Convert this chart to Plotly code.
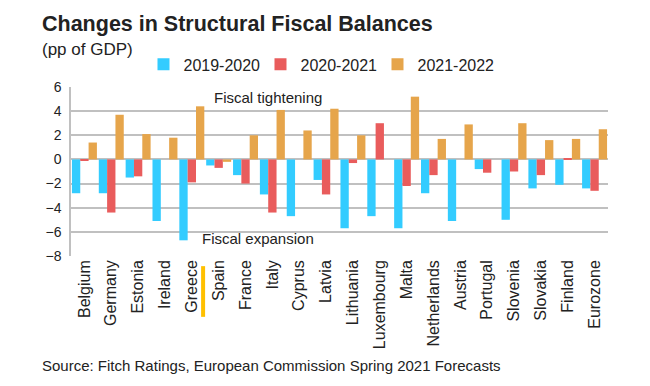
import plotly.graph_objects as go

countries = ["Belgium", "Germany", "Estonia", "Ireland", "Greece", "Spain", "France",
             "Italy", "Cyprus", "Latvia", "Lithuania", "Luxembourg", "Malta",
             "Netherlands", "Austria", "Portugal", "Slovenia", "Slovakia", "Finland",
             "Eurozone"]
s2019_2020 = [-2.8, -2.8, -1.5, -5.1, -6.7, -0.5, -1.3, -2.9, -4.7, -1.7, -5.7, -4.7,
              -5.7, -2.8, -5.1, -0.8, -5.0, -2.4, -2.1, -2.4]
s2020_2021 = [-0.1, -4.4, -1.4, 0.0, -1.9, -0.7, -2.0, -4.4, 0.0, -2.9, -0.3, 3.0,
              -2.2, -1.3, 0.0, -1.1, -1.0, -1.3, 0.1, -2.6]
s2021_2022 = [1.4, 3.7, 2.1, 1.8, 4.4, -0.2, 2.0, 4.1, 2.4, 4.2, 2.0, 0.0,
              5.2, 1.7, 2.9, 0.0, 3.0, 1.6, 1.7, 2.5]
series_names = ["2019-2020", "2020-2021", "2021-2022"]
series_colors = ["#33CCFF", "#E95C5C", "#E6A54B"]
y_ticks = [-8, -6, -4, -2, 0, 2, 4, 6]

FONT = "Liberation Sans, Arial, sans-serif"

fig = go.Figure()
for name, vals, col in zip(series_names, [s2019_2020, s2020_2021, s2021_2022], series_colors):
    fig.add_trace(go.Bar(x=countries, y=vals, name=name, marker_color=col,
                         marker_line_width=0))

fig.update_layout(
    width=650, height=386,
    margin=dict(l=71, r=42, t=87, b=130, autoexpand=False),
    paper_bgcolor="white", plot_bgcolor="white",
    font=dict(family=FONT, size=13, color="#222222"),
    barmode="group", bargap=0.07, bargroupgap=0,
    showlegend=True,
    legend=dict(orientation="h", x=0.135, xanchor="left", y=1.134, yanchor="middle",
                font=dict(size=16, color="#222222"), itemwidth=30,
                entrywidth=72, entrywidthmode="pixels", bgcolor="rgba(0,0,0,0)",
                traceorder="normal"),
    xaxis=dict(tickangle=-90, showgrid=False, showline=False, ticks="",
               tickfont=dict(size=16, color="#222222")),
    yaxis=dict(range=[-8, 6], tickvals=y_ticks, showgrid=True, gridcolor="#C0C0C0",
               gridwidth=1.5, zeroline=True, zerolinecolor="#C0C0C0", zerolinewidth=2,
               showline=True, linecolor="#C0C0C0", linewidth=1.5, ticks="",
               tickfont=dict(size=14, color="#222222"), ticklabelstandoff=5),
)

fig.add_annotation(text="<b>Changes in Structural Fiscal Balances</b>", xref="paper", yref="paper",
                   x=-0.057, y=1.37, xanchor="left", yanchor="middle", showarrow=False,
                   font=dict(size=21.5, color="#222222"))
fig.add_annotation(text="(pp of GDP)", xref="paper", yref="paper",
                   x=-0.057, y=1.223, xanchor="left", yanchor="middle", showarrow=False,
                   font=dict(size=17, color="#222222"))
fig.add_annotation(text="Fiscal tightening", xref="paper", yref="y", x=0.366, y=5.1,
                   showarrow=False, font=dict(size=15, color="#222222"))
fig.add_annotation(text="Fiscal expansion", xref="paper", yref="y", x=0.349, y=-6.53,
                   showarrow=False, font=dict(size=15, color="#222222"))
fig.add_annotation(text="Source: Fitch Ratings, European Commission Spring 2021 Forecasts",
                   xref="paper", yref="paper", x=-0.057, y=-0.65, xanchor="left",
                   yanchor="middle", showarrow=False, font=dict(size=15, color="#222222"))

fig.add_shape(type="line", xref="x", yref="paper", x0=4.42, x1=4.42, y0=-0.06, y1=-0.36,
              line=dict(color="#FFC000", width=4))

fig.write_html("out.html", config={"displayModeBar": False},
               post_script="document.body.style.margin='0';")
